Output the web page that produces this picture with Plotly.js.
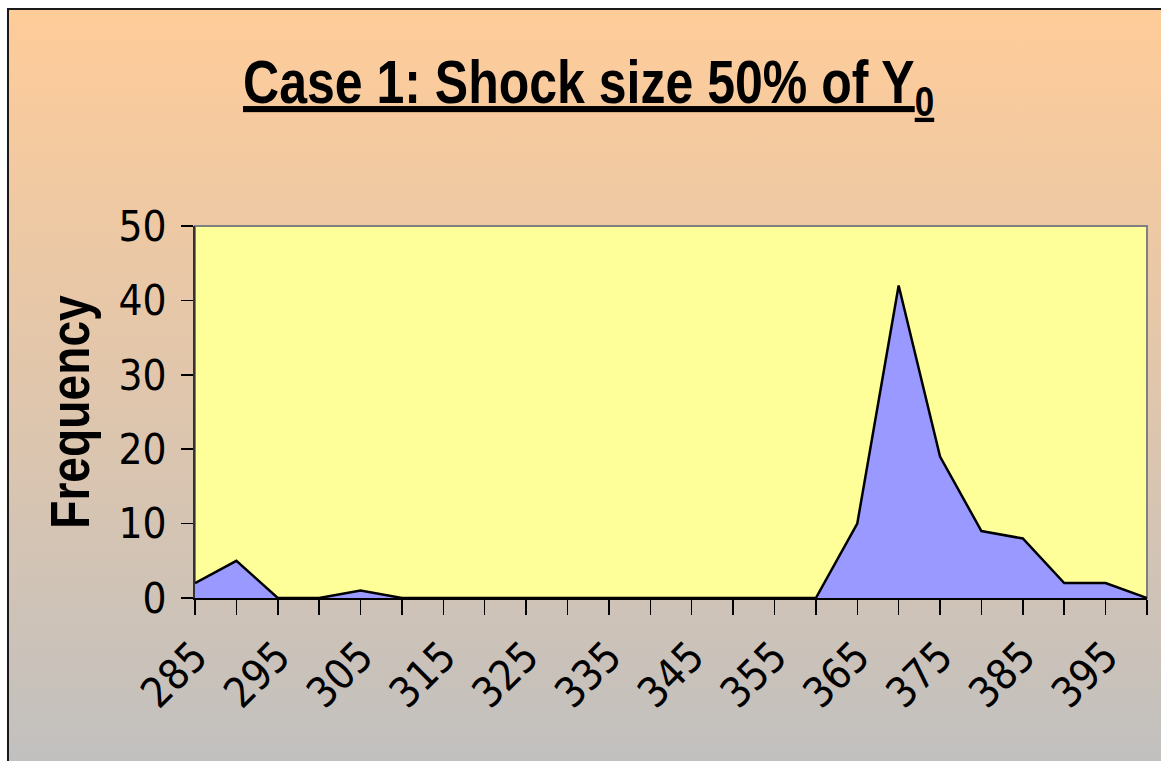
<!DOCTYPE html>
<html>
<head>
<meta charset="utf-8">
<script src="https://cdn.plot.ly/plotly-3.0.1.min.js"></script>
<style>
  html, body { margin: 0; padding: 0; width: 1161px; height: 761px; overflow: hidden; background: #ffffff; }
  #frame {
    position: absolute; left: 7px; top: 8px; width: 1170px; height: 770px;
    border-left: 2px solid #1a1a1a; border-top: 2px solid #1a1a1a;
    background: linear-gradient(to bottom, #FFCC99 0%, #C0C0C0 100%);
  }
  #chart { position: absolute; left: 0; top: 0; width: 1161px; height: 761px; }
  /* emulate a narrow (condensed) bold face */
  #chart .gtitle {
    transform-box: fill-box; transform-origin: center;
    transform: scaleX(0.82);
  }
  #chart .ytitle {
    transform-box: fill-box; transform-origin: center;
    transform: translate(0px, 19px) rotate(-90deg) scaleX(0.84);
  }
</style>
</head>
<body>
<div id="frame"></div>
<div id="chart"></div>
<script>
const bins = [285, 290, 295, 300, 305, 310, 315, 320, 325, 330, 335, 340,
              345, 350, 355, 360, 365, 370, 375, 380, 385, 390, 395, 400];
const frequency = [2, 5, 0, 0, 1, 0, 0, 0, 0, 0, 0, 0,
                   0, 0, 0, 0, 10, 42, 19, 9, 8, 2, 2, 0];
const titleText = 'Case 1: Shock size 50% of Y<sub>0</sub>';
const yTitleText = 'Frequency';

const narrow = '"DejaVu Sans Condensed", "Liberation Sans Narrow", sans-serif';
const arial = '"Liberation Sans", Arial, sans-serif';

const trace = {
  x: bins,
  y: frequency,
  type: 'scatter',
  mode: 'lines',
  fill: 'tozeroy',
  fillcolor: '#9999FF',
  line: { color: '#000000', width: 2.5 },
  hoverinfo: 'x+y'
};

const layout = {
  width: 1161,
  height: 761,
  margin: { l: 195, r: 14, t: 226, b: 163 },
  paper_bgcolor: 'rgba(0,0,0,0)',
  plot_bgcolor: '#FFFF99',
  showlegend: false,
  title: {
    text: '<u>' + titleText + '</u>',
    font: { family: arial, size: 61, color: '#000000', weight: 'bold' },
    xref: 'container', yref: 'container',
    x: 0.507, xanchor: 'center',
    y: 0.893, yanchor: 'middle'
  },
  xaxis: {
    range: [285, 400],
    tick0: 285, dtick: 10,
    ticks: 'outside', ticklen: 15, tickwidth: 1.5, tickcolor: '#000000',
    minor: { dtick: 5, ticks: 'outside', ticklen: 15, tickwidth: 1.5, tickcolor: '#000000' },
    tickangle: -45,
    tickfont: { family: narrow, size: 42, color: '#000000' },
    showline: true, linecolor: '#000000', linewidth: 2,
    showgrid: false, zeroline: false,
    fixedrange: true
  },
  yaxis: {
    range: [0, 50],
    tick0: 0, dtick: 10,
    ticks: 'outside', ticklen: 12, tickwidth: 1.5, tickcolor: '#000000',
    tickfont: { family: narrow, size: 42, color: '#000000' },
    ticklabelstandoff: 6,
    showline: true, linecolor: '#333333', linewidth: 2,
    showgrid: false, zeroline: false,
    title: {
      text: yTitleText,
      font: { family: arial, size: 55, color: '#000000', weight: 'bold' },
      standoff: 30
    },
    fixedrange: true
  },
  shapes: [{
    type: 'rect', xref: 'paper', yref: 'paper',
    x0: 0, x1: 1, y0: 0, y1: 1,
    line: { color: '#808080', width: 2 },
    layer: 'below'
  }]
};

Plotly.newPlot('chart', [trace], layout, { displayModeBar: false, staticPlot: true });
</script>
</body>
</html>
